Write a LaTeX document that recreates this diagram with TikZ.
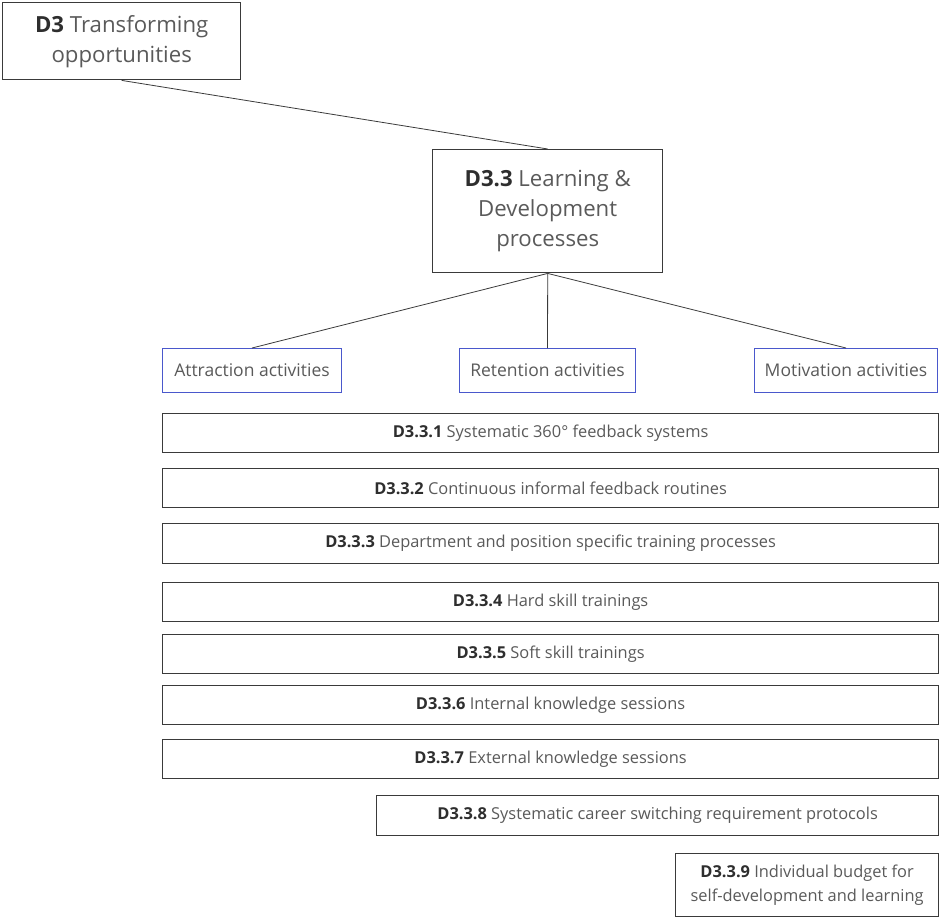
\documentclass[tikz,border=0pt]{standalone}
\usepackage{fontspec}
\setmainfont{Open Sans}
\definecolor{txt}{HTML}{5A5A5A}
\definecolor{txtb}{HTML}{2E2E2E}
\definecolor{edge}{HTML}{3A3A3A}
\definecolor{blueedge}{HTML}{4A58CC}
\begin{document}
\begin{tikzpicture}[x=1pt,y=-1pt,
  box/.style={draw=edge, line width=1.4pt, fill=white, anchor=north west,
    inner sep=0pt, text=txt, align=center},
  bigbox/.style={box, font=\fontsize{22.2}{30}\selectfont},
  actbox/.style={box, draw=blueedge, line width=1pt, font=\fontsize{17.5}{20}\selectfont},
  itembox/.style={box, line width=1.2pt, font=\fontsize{16.4}{24}\selectfont},
  link/.style={draw=edge, line width=0.8pt}]
\useasboundingbox (0,0) rectangle (939,919);

% top-level nodes
\node[bigbox, minimum width=238pt, minimum height=77pt] (d3) at (2,2)
  {\textcolor{txtb}{\textbf{D3}} Transforming\\opportunities};
\node[bigbox, minimum width=230pt, minimum height=123pt] (d33) at (432,149)
  {\textcolor{txtb}{\textbf{D3.3}} Learning \&\\Development\\processes};

% activity groups
\node[actbox, minimum width=179pt, minimum height=44pt] (attr) at (162,348) {Attraction activities};
\node[actbox, minimum width=176pt, minimum height=44pt] (ret) at (459,348) {Retention activities};
\node[actbox, minimum width=183pt, minimum height=44pt] (mot) at (754,348) {Motivation activities};

% item rows
\node[itembox, minimum width=776pt, minimum height=39pt] (i1) at (162,413)
  {\textcolor{txtb}{\textbf{D3.3.1}} Systematic 360° feedback systems};
\node[itembox, minimum width=776pt, minimum height=39pt] (i2) at (162,468)
  {\textcolor{txtb}{\textbf{D3.3.2}} Continuous informal feedback routines};
\node[itembox, minimum width=776pt, minimum height=40pt] (i3) at (162,523)
  {\textcolor{txtb}{\textbf{D3.3.3}} Department and position specific training processes};
\node[itembox, minimum width=776pt, minimum height=39pt] (i4) at (162,582)
  {\textcolor{txtb}{\textbf{D3.3.4}} Hard skill trainings};
\node[itembox, minimum width=776pt, minimum height=39pt] (i5) at (162,634)
  {\textcolor{txtb}{\textbf{D3.3.5}} Soft skill trainings};
\node[itembox, minimum width=776pt, minimum height=39pt] (i6) at (162,685)
  {\textcolor{txtb}{\textbf{D3.3.6}} Internal knowledge sessions};
\node[itembox, minimum width=776pt, minimum height=39pt] (i7) at (162,739)
  {\textcolor{txtb}{\textbf{D3.3.7}} External knowledge sessions};
\node[itembox, minimum width=562pt, minimum height=40pt] (i8) at (376,795)
  {\textcolor{txtb}{\textbf{D3.3.8}} Systematic career switching requirement protocols};
\node[itembox, minimum width=263pt, minimum height=63pt] (i9) at (675,853)
  {\textcolor{txtb}{\textbf{D3.3.9}} Individual budget for\\self-development and learning};

% connectors
\draw[link] (d3.south) -- (d33.north);
\draw[link] (d33.south) -- (attr.north);
\draw[link] (d33.south) -- (ret.north);
\draw[link] (d33.south) -- (mot.north);
\end{tikzpicture}
\end{document}
